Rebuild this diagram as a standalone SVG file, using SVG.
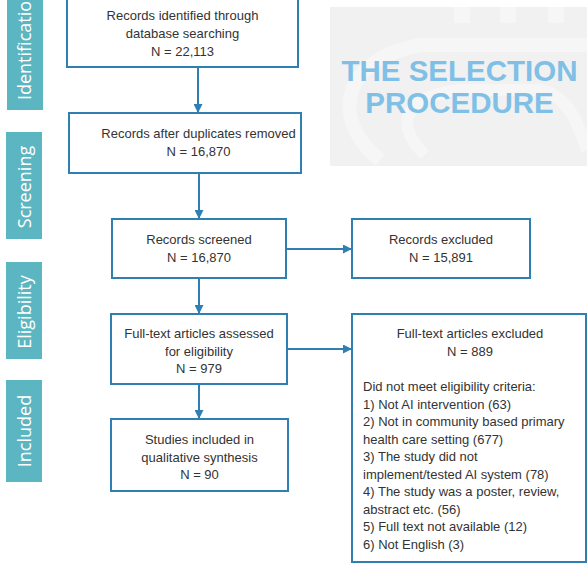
<svg xmlns="http://www.w3.org/2000/svg" width="587" height="587" viewBox="0 0 587 587">
<defs>
<style>
.stage rect{fill:#5cb6c1}
.stage text{fill:#fff;font-family:"Open Sans","Liberation Sans",sans-serif;font-size:18px;text-anchor:middle}
.box rect{fill:#fff;stroke:#2f7fb3;stroke-width:2}
.box text{fill:#333;font-family:"Liberation Sans",Arial,sans-serif;font-size:13px;text-anchor:middle}
.box text.l{text-anchor:start}
.conn{stroke:#2f7fb3;stroke-width:2;fill:none;marker-end:url(#ah)}
.title{fill:#80c0e6;font-family:"Liberation Sans",Arial,sans-serif;font-weight:bold;font-size:29.5px;text-anchor:middle}
.wm{stroke:#f6f6f6;fill:none}
</style>
<marker id="ah" viewBox="0 0 10 10" refX="10" refY="5" markerWidth="4.5" markerHeight="4.5" orient="auto" markerUnits="strokeWidth">
<path d="M0,0 L10,5 L0,10 z" fill="#2f7fb3"/>
</marker>
</defs>
<rect width="587" height="587" fill="#fff"/>
<g id="banner">
<rect x="330" y="7" width="257" height="159" fill="#f1f1f1"/>
<path class="wm" d="M380,160 C330,120 340,60 420,45 L587,45" stroke-width="14"/>
<path class="wm" d="M425,155 C390,120 410,95 460,90 L540,90 C570,95 580,130 587,150" stroke-width="12"/>
<rect x="454" y="7" width="16" height="16" fill="#f6f6f6"/>
<rect x="500" y="7" width="16" height="16" fill="#f6f6f6"/>
<rect x="548" y="7" width="16" height="16" fill="#f6f6f6"/>
<text class="title" x="459.5" y="81">THE SELECTION</text>
<text class="title" x="459.5" y="113">PROCEDURE</text>
</g>
<g id="stage-identification" class="stage">
<rect x="7" y="-20" width="36" height="130"/>
<text transform="translate(31,45) rotate(-90)">Identification</text>
</g>
<g id="stage-screening" class="stage">
<rect x="6" y="132" width="36" height="107"/>
<text transform="translate(31,187) rotate(-90)">Screening</text>
</g>
<g id="stage-eligibility" class="stage">
<rect x="6" y="262" width="36" height="97"/>
<text transform="translate(31,312) rotate(-90)">Eligibility</text>
</g>
<g id="stage-included" class="stage">
<rect x="6" y="380" width="36" height="102"/>
<text transform="translate(31,431) rotate(-90)">Included</text>
</g>
<g id="connectors">
<line class="conn" x1="198" y1="67" x2="198" y2="113"/>
<line class="conn" x1="199" y1="173" x2="199" y2="219"/>
<line class="conn" x1="199" y1="278" x2="199" y2="314"/>
<line class="conn" x1="199" y1="384" x2="199" y2="419"/>
<line class="conn" x1="286" y1="249" x2="352" y2="249"/>
<line class="conn" x1="287" y1="349" x2="352" y2="349"/>
</g>
<g id="n-identified" class="box">
<rect x="67" y="-20" width="231" height="87"/>
<text x="182.5" y="20">Records identified through</text>
<text x="182.5" y="38">database searching</text>
<text x="182.5" y="56">N = 22,113</text>
</g>
<g id="n-duplicates" class="box">
<rect x="69" y="113" width="232" height="60"/>
<text x="198.5" y="138">Records after duplicates removed</text>
<text x="198.5" y="156">N = 16,870</text>
</g>
<g id="n-screened" class="box">
<rect x="112" y="219" width="174" height="59"/>
<text x="199" y="244">Records screened</text>
<text x="199" y="262">N = 16,870</text>
</g>
<g id="n-excluded" class="box">
<rect x="352" y="219" width="178" height="59"/>
<text x="441" y="244">Records excluded</text>
<text x="441" y="262">N = 15,891</text>
</g>
<g id="n-fulltext" class="box">
<rect x="111" y="314" width="176" height="70"/>
<text x="199" y="338">Full-text articles assessed</text>
<text x="199" y="356">for eligibility</text>
<text x="199" y="373">N = 979</text>
</g>
<g id="n-fulltext-excluded" class="box">
<rect x="352" y="314" width="234" height="248"/>
<text x="470" y="338">Full-text articles excluded</text>
<text x="470" y="356">N = 889</text>
<text class="l" x="363" y="391">Did not meet eligibility criteria:</text>
<text class="l" x="363" y="408.5">1) Not AI intervention (63)</text>
<text class="l" x="363" y="426">2) Not in community based primary</text>
<text class="l" x="363" y="443.5">health care setting (677)</text>
<text class="l" x="363" y="461">3) The study did not</text>
<text class="l" x="363" y="478.5">implement/tested AI system (78)</text>
<text class="l" x="363" y="496">4) The study was a poster, review,</text>
<text class="l" x="363" y="513.5">abstract etc. (56)</text>
<text class="l" x="363" y="531">5) Full text not available (12)</text>
<text class="l" x="363" y="548.5">6) Not English (3)</text>
</g>
<g id="n-included" class="box">
<rect x="111" y="419" width="177" height="72"/>
<text x="199.5" y="444">Studies included in</text>
<text x="199.5" y="462">qualitative synthesis</text>
<text x="199.5" y="479">N = 90</text>
</g>
</svg>
